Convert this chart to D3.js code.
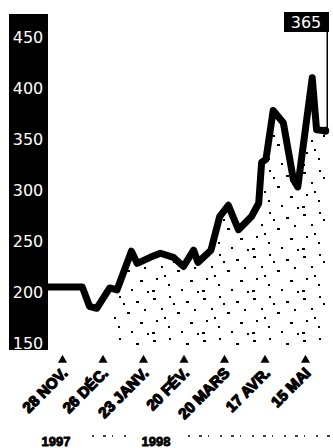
<!DOCTYPE html>
<html>
<head>
<meta charset="utf-8">
<script src="https://cdn.jsdelivr.net/npm/d3@7"></script>
<style>
  body { margin: 0; background: #fff; }
  svg { display: block; }
</style>
</head>
<body>
<div id="chart"></div>
<script>
// price series
const dates = ["1997-11-18","1997-12-12","1997-12-17","1997-12-22","1997-12-31","1998-01-05",
  "1998-01-15","1998-01-19","1998-01-28","1998-02-04","1998-02-13","1998-02-20","1998-02-27",
  "1998-03-02","1998-03-11","1998-03-17","1998-03-23","1998-03-30","1998-04-08","1998-04-13",
  "1998-04-15","1998-04-18","1998-04-23","1998-04-30","1998-05-07","1998-05-10","1998-05-20",
  "1998-05-23","1998-05-29"];
const values = [205,205,186,184,204,202,240,228,234,238,234,225,241,229,241,274,285,261,274,287,
  327,330,378,366,310,303,410,359,358];

const tickDates = ["1997-11-28","1997-12-26","1998-01-23","1998-02-20","1998-03-20","1998-04-17","1998-05-15"];
const tickLabels = ["28 NOV.","26 DÉC.","23 JANV.","20 FÉV.","20 MARS","17 AVR.","15 MAI"];
const yTicks = [150,200,250,300,350,400,450];
const years = ["1997","1998"];
const lastLabel = "365";

const width = 333, height = 448;
const parse = d3.timeParse("%Y-%m-%d");
const data = dates.map((d, i) => ({date: parse(d), value: values[i]}));

const svg = d3.select("#chart")
  .append("svg")
  .attr("width", width)
  .attr("height", height)
  .attr("viewBox", [0, 0, width, height]);

const x = d3.scaleTime()
  .domain([parse(tickDates[0]), parse(tickDates[6])])
  .range([62, 305]);

const y = d3.scaleLinear()
  .domain([150, 450])
  .range([343, 37]);

// stipple texture (newsprint dots)
const defs = svg.append("defs");
const pat = defs.append("pattern")
  .attr("id", "stipple")
  .attr("patternUnits", "userSpaceOnUse")
  .attr("width", 50)
  .attr("height", 42);
[[3,4,3],[19,2,2],[36,7,3],[44,15,2],[11,14,2],[27,18,3],[6,26,2],[40,28,3],
 [18,32,2],[31,37,2],[2,38,3],[47,39,2],[23,9,2],[14,23,2]].forEach(p => {
  pat.append("rect").attr("x", p[0]).attr("y", p[1]).attr("width", p[2]).attr("height", 2).attr("fill", "#000");
});
defs.append("clipPath").attr("id", "areaclip")
  .append("rect").attr("x", 114).attr("y", 0).attr("width", width).attr("height", height);

// y axis band
svg.append("rect")
  .attr("x", 9).attr("y", 14)
  .attr("width", 39).attr("height", 336)
  .attr("fill", "#000");

svg.append("g")
  .selectAll("text")
  .data(yTicks)
  .join("text")
  .attr("x", 28)
  .attr("y", d => y(d) + 6)
  .attr("text-anchor", "middle")
  .attr("fill", "#fff")
  .style("font", "16px 'DejaVu Sans'")
  .text(d => d);

// stippled area under the curve
const area = d3.area()
  .x(d => x(d.date))
  .y0(y(150) + 2)
  .y1(d => y(d.value) + 4);

svg.append("path")
  .datum(data)
  .attr("clip-path", "url(#areaclip)")
  .attr("fill", "url(#stipple)")
  .attr("d", area);

const line = d3.line()
  .x(d => x(d.date))
  .y(d => y(d.value));

svg.append("path")
  .datum(data)
  .attr("fill", "none")
  .attr("stroke", "#000")
  .attr("stroke-width", 7)
  .attr("stroke-linejoin", "round")
  .attr("d", line);

// last value callout
const last = data[data.length - 1];
svg.append("line")
  .attr("x1", x(last.date) + 2).attr("x2", x(last.date) + 2)
  .attr("y1", 30).attr("y2", y(last.value))
  .attr("stroke", "#000")
  .attr("stroke-width", 1.5);
svg.append("circle")
  .attr("cx", x(last.date)).attr("cy", y(last.value))
  .attr("r", 4).attr("fill", "#000");
svg.append("rect")
  .attr("x", 284).attr("y", 12)
  .attr("width", 45).attr("height", 20)
  .attr("fill", "#000");
svg.append("text")
  .attr("x", 306).attr("y", 28)
  .attr("text-anchor", "middle")
  .attr("fill", "#fff")
  .style("font", "16px 'DejaVu Sans'")
  .text(lastLabel);

// x axis: triangles + slanted labels
const xAxis = d3.axisBottom(x)
  .tickValues(tickDates.map(parse))
  .tickFormat((d, i) => tickLabels[i])
  .tickSize(0);

const gx = svg.append("g")
  .attr("transform", "translate(0,360)")
  .call(xAxis);
gx.select(".domain").remove();
gx.selectAll(".tick")
  .append("path")
  .attr("d", d3.symbol(d3.symbolTriangle, 36))
  .attr("fill", "#000");
gx.selectAll(".tick text")
  .attr("y", 0).attr("dy", 0)
  .attr("text-anchor", "end")
  .attr("transform", "translate(6,14) rotate(-45)")
  .attr("fill", "#000")
  .attr("stroke", "#000")
  .attr("stroke-width", 1.3)
  .attr("stroke-linejoin", "round")
  .style("font", "bold 15px 'Liberation Sans', Arial, sans-serif");

// years row
svg.append("line")
  .attr("x1", 92).attr("x2", 333)
  .attr("y1", 436).attr("y2", 436)
  .attr("stroke", "#000")
  .attr("stroke-width", 1.5)
  .attr("stroke-dasharray", "2 9 3 6 1 11");
svg.append("rect")
  .attr("x", 134).attr("y", 429).attr("width", 44).attr("height", 19)
  .attr("fill", "#fff");
svg.selectAll(".year")
  .data(years)
  .join("text")
  .attr("class", "year")
  .attr("x", (d, i) => [56, 156][i])
  .attr("y", 446)
  .attr("text-anchor", "middle")
  .attr("fill", "#000")
  .attr("stroke", "#000")
  .attr("stroke-width", 0.8)
  .style("font", "bold 13px 'Liberation Sans', Arial, sans-serif")
  .text(d => d);
</script>
</body>
</html>
